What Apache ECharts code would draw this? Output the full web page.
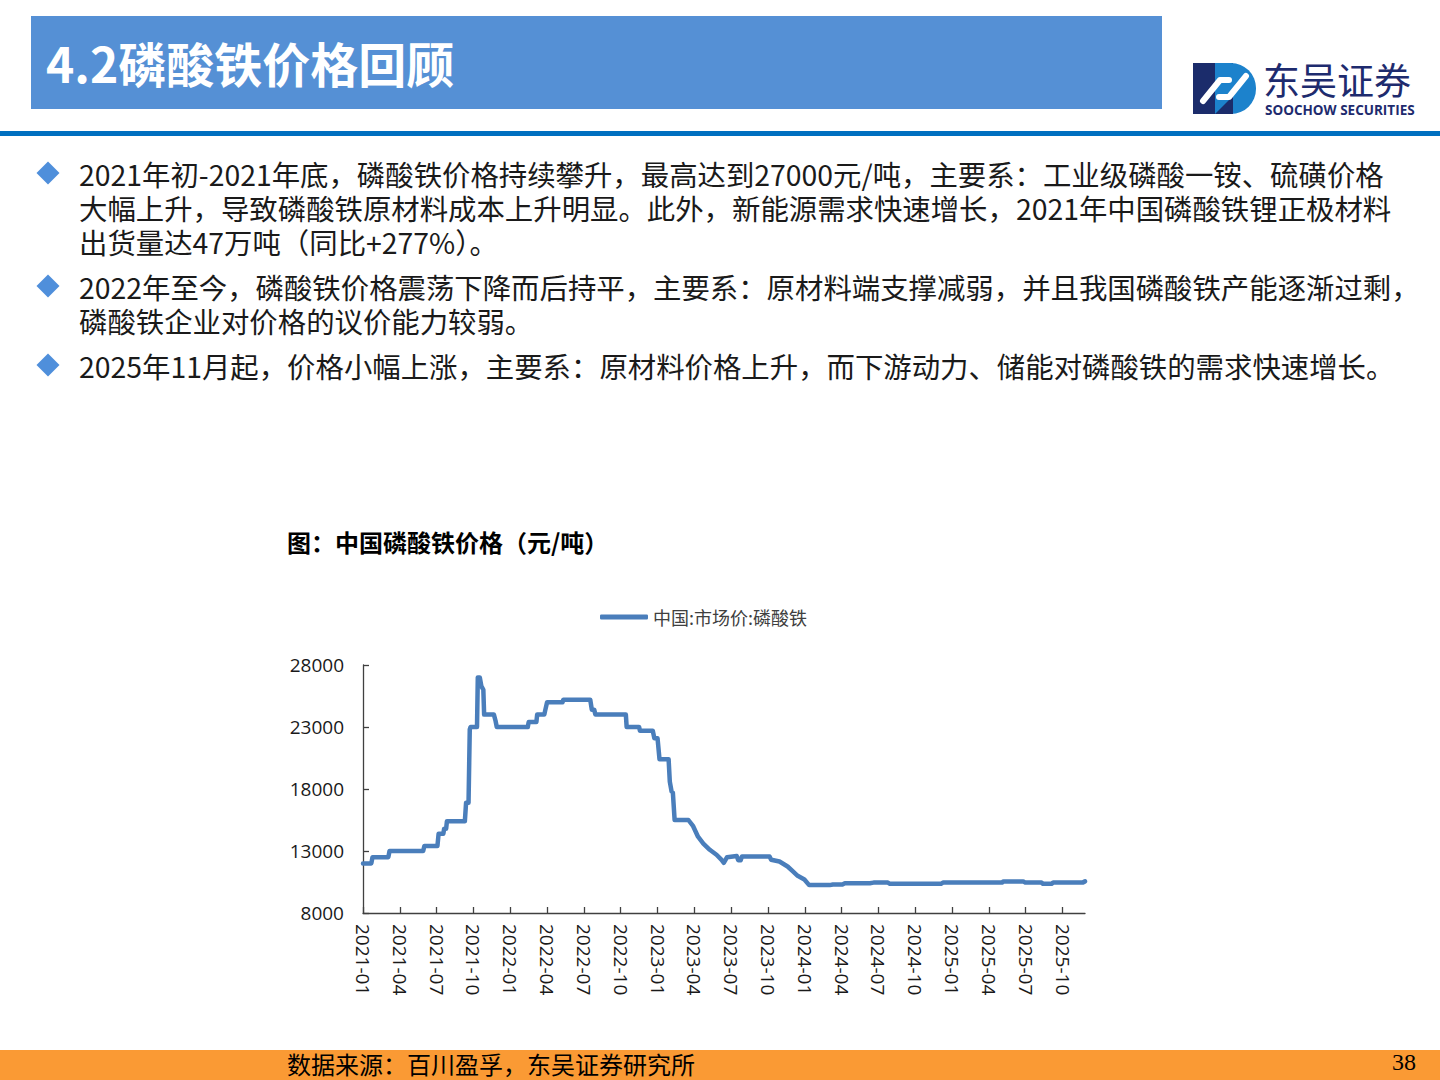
<!DOCTYPE html>
<html>
<head>
<meta charset="utf-8">
<script src="https://cdn.jsdelivr.net/npm/echarts@6/dist/echarts.min.js"></script>
<style>
html,body{margin:0;padding:0;background:#ffffff;}
#c{width:1440px;height:1080px;}
</style>
</head>
<body>
<div id="c"></div>
<script>
// ---------- data ----------
const seriesName = '中国:市场价:磷酸铁';
const dates = [
'2021-01-01','2021-01-22','2021-01-25','2021-03-03','2021-03-06','2021-05-29','2021-06-01','2021-07-03','2021-07-06','2021-07-18',
'2021-07-20','2021-07-25','2021-07-27','2021-09-10','2021-09-13','2021-09-19','2021-09-22','2021-09-24','2021-10-10','2021-10-12',
'2021-10-17','2021-10-21','2021-10-26','2021-10-28','2021-11-21','2021-11-25','2021-11-28','2022-02-13','2022-02-15','2022-03-05',
'2022-03-07','2022-03-25','2022-03-27','2022-04-01','2022-05-09','2022-05-11','2022-07-17','2022-07-21','2022-07-27','2022-07-30',
'2022-10-14','2022-10-16','2022-11-16','2022-11-18','2022-12-20','2022-12-24','2023-01-01','2023-01-06','2023-01-29','2023-02-01',
'2023-02-05','2023-02-08','2023-02-12','2023-03-17','2023-03-29','2023-04-10','2023-04-23','2023-05-09','2023-05-26','2023-06-07',
'2023-06-13','2023-06-21','2023-07-15','2023-07-19','2023-07-25','2023-07-28','2023-10-05','2023-10-09','2023-10-30','2023-11-19',
'2023-12-02','2023-12-14','2023-12-31','2024-01-12','2024-03-02','2024-03-10','2024-04-03','2024-04-09','2024-06-10','2024-06-19',
'2024-07-25','2024-07-30','2024-12-04','2024-12-09','2025-05-03','2025-05-07','2025-06-25','2025-06-30','2025-08-10','2025-08-14',
'2025-09-04','2025-09-08','2025-11-20','2025-11-26'
];
const prices = [
12000,12000,12500,12500,13000,13000,13400,13400,14400,14400,
14800,14800,15400,15400,16900,16900,22800,23000,23000,27000,
27000,26300,26000,24000,24000,23500,23000,23000,23400,23400,
24000,24000,24300,25000,25000,25200,25200,24400,24400,24000,
24000,23000,23000,22700,22700,22100,22100,20400,20400,18600,
17800,17700,15500,15500,15000,14150,13600,13100,12700,12300,
12050,12500,12600,12250,12250,12550,12550,12300,12150,11750,
11350,11000,10700,10250,10250,10300,10300,10400,10400,10450,
10450,10350,10350,10450,10450,10550,10550,10450,10450,10350,
10350,10450,10450,10550
];
const tickLabels = ['2021-01','2021-04','2021-07','2021-10','2022-01','2022-04','2022-07','2022-10',
'2023-01','2023-04','2023-07','2023-10','2024-01','2024-04','2024-07','2024-10','2025-01','2025-04','2025-07','2025-10'];
const axisEndDate = '2025-11-26';
const yMin = 8000, yMax = 28000, yStep = 5000;

const headerTitle = '4.2磷酸铁价格回顾';
const bulletLines = [
  {bullet:true,  text:'2021年初-2021年底，磷酸铁价格持续攀升，最高达到27000元/吨，主要系：工业级磷酸一铵、硫磺价格'},
  {bullet:false, text:'大幅上升，导致磷酸铁原材料成本上升明显。此外，新能源需求快速增长，2021年中国磷酸铁锂正极材料'},
  {bullet:false, text:'出货量达47万吨（同比+277%）。'},
  {bullet:true,  text:'2022年至今，磷酸铁价格震荡下降而后持平，主要系：原材料端支撑减弱，并且我国磷酸铁产能逐渐过剩，'},
  {bullet:false, text:'磷酸铁企业对价格的议价能力较弱。'},
  {bullet:true,  text:'2025年11月起，价格小幅上涨，主要系：原材料价格上升，而下游动力、储能对磷酸铁的需求快速增长。'}
];
const lineYs = [173, 207, 241, 286, 320, 365];
const chartTitle = '图：中国磷酸铁价格（元/吨）';
const sourceText = '数据来源：百川盈孚，东吴证券研究所';
const pageNo = '38';

// ---------- helpers ----------
function monthIndex(s){
  const p = s.split('-').map(Number);
  const y = p[0], m = p[1], d = p[2] || 1;
  const dim = new Date(y, m, 0).getDate();
  return (y - 2021) * 12 + (m - 1) + (d - 1) / dim;
}
const seriesData = dates.map((d, i) => [monthIndex(d), prices[i]]);
const tickValues = tickLabels.map(t => monthIndex(t + '-01'));
const labelMap = {};
tickLabels.forEach((t, i) => { labelMap[tickValues[i].toFixed(3)] = t; });

const CJK = '"Noto Sans CJK SC","Noto Sans",sans-serif';
const NUM = '"Open Sans","Liberation Sans",sans-serif';

// ---------- graphics ----------
const g = [];
g.push({type:'rect', shape:{x:31,y:16,width:1131,height:93}, style:{fill:'#5590D5'}, silent:true});
g.push({type:'text', x:46, y:62, style:{text:headerTitle, fill:'#ffffff', font:'bold 48px ' + CJK, lineHeight:50, verticalAlign:'middle', textAlign:'left'}});
g.push({type:'rect', shape:{x:0,y:131,width:1440,height:5}, style:{fill:'#0070C0'}});
// logo
g.push({type:'rect', shape:{x:1193,y:63,width:40,height:51}, style:{fill:'#1B2C6B'}});
g.push({type:'rect', shape:{x:1215,y:63,width:41,height:51,r:[0,25,25,0]}, style:{fill:'#1C82CC'}});
g.push({type:'polygon', shape:{points:[[1215,114],[1233,114],[1233,96]]}, style:{fill:'#1B2C6B'}});
g.push({type:'polyline', shape:{points:[[1203,101],[1220,80],[1229,80]]}, style:{stroke:'#ffffff', lineWidth:6, lineCap:'round', lineJoin:'round', fill:null}});
g.push({type:'polyline', shape:{points:[[1219,97],[1229,97],[1246,76]]}, style:{stroke:'#ffffff', lineWidth:6, lineCap:'round', lineJoin:'round', fill:null}});
g.push({type:'text', x:1263, y:79, style:{text:'东吴证券', fill:'#1E2B6E', font:'37px ' + CJK, lineHeight:37, verticalAlign:'middle'}});
g.push({type:'text', x:1265, y:110, style:{text:'SOOCHOW SECURITIES', fill:'#1E2B6E', font:'bold 13.5px "Open Sans",sans-serif', lineHeight:13, verticalAlign:'middle'}});
// bullets + paragraphs
bulletLines.forEach((ln, i) => {
  const y = lineYs[i];
  if (ln.bullet) {
    g.push({type:'polygon', shape:{points:[[48,y-11.5],[59.5,y],[48,y+11.5],[36.5,y]]}, style:{fill:'#4F8FDB'}});
  }
  g.push({type:'text', x:79, y:y, style:{text:ln.text, fill:'#1a1a1a', font:'28.4px ' + CJK, lineHeight:30, verticalAlign:'middle'}});
});
// chart title
g.push({type:'text', x:287, y:541, style:{text:chartTitle, fill:'#000000', font:'bold 24px ' + CJK, lineHeight:26, verticalAlign:'middle'}});
// footer
g.push({type:'rect', shape:{x:0,y:1050,width:1440,height:30}, style:{fill:'#FA9A34'}});
g.push({type:'text', x:287, y:1063, style:{text:sourceText, fill:'#000000', font:'24px ' + CJK, lineHeight:24, verticalAlign:'middle'}});
g.push({type:'text', x:1392, y:1062, style:{text:pageNo, fill:'#000000', font:'24px "Liberation Serif",serif', lineHeight:24, verticalAlign:'middle'}});

const chart = echarts.init(document.getElementById('c'), null, {renderer:'svg', width:1440, height:1080});
chart.setOption({
  animation:false,
  backgroundColor:'#ffffff',
  graphic: g,
  legend:{
    left:600, top:608, padding:0,
    icon:'roundRect', itemWidth:48, itemHeight:5, itemGap:10,
    textStyle:{fontFamily:CJK, fontSize:18, color:'#404040'},
    data:[seriesName]
  },
  grid:{left:363, top:665, width:722, height:248, containLabel:false},
  xAxis:{
    type:'value', min:0, max:monthIndex(axisEndDate), interval:3,
    axisLine:{show:true, lineStyle:{color:'#404040', width:1.3}},
    axisTick:{show:true, inside:true, length:6, lineStyle:{color:'#404040', width:1.3}, customValues:tickValues},
    splitLine:{show:false},
    axisLabel:{
      show:true, rotate:-90, margin:11, fontFamily:NUM, fontSize:19, color:'#1a1a1a',
      customValues:tickValues,
      formatter:function(v){ return labelMap[Number(v).toFixed(3)] || ''; }
    }
  },
  yAxis:{
    type:'value', min:yMin, max:yMax, interval:yStep,
    axisLine:{show:true, lineStyle:{color:'#404040', width:1.3}},
    axisTick:{show:true, inside:true, length:6, lineStyle:{color:'#404040', width:1.3}},
    splitLine:{show:false},
    axisLabel:{margin:19, fontFamily:NUM, fontSize:19, color:'#1a1a1a', formatter:function(v){ return String(v); }}
  },
  series:[{
    name:seriesName, type:'line', data:seriesData, showSymbol:false, symbol:'none',
    lineStyle:{color:'#4A7EBB', width:4.5, cap:'round', join:'round'},
    itemStyle:{color:'#4A7EBB'}
  }]
});
</script>
</body>
</html>
